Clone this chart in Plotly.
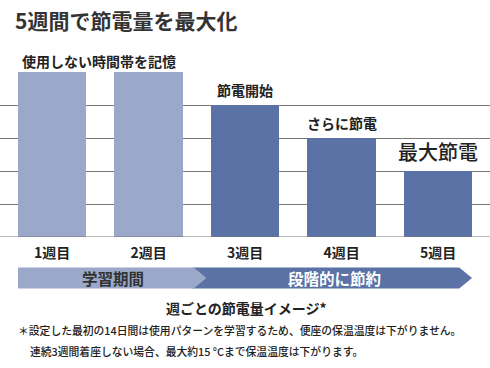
import plotly.graph_objects as go

weeks = ["1週目", "2週目", "3週目", "4週目", "5週目"]
usage = [5, 5, 4, 3, 2]
bar_colors = ["#9aa9c9", "#9aa9c9", "#5a72a5", "#5a72a5", "#5a72a5"]
bar_notes = ["", "", "節電開始", "さらに節電", "最大節電"]
note_sizes = [14, 14, 14, 14, 20]

title_text = "5週間で節電量を最大化"
memo_text = "使用しない時間帯を記憶"
phase_labels = ["学習期間", "段階的に節約"]
caption = "週ごとの節電量イメージ*"
foot1 = "＊設定した最初の14日間は使用パターンを学習するため、便座の保温温度は下がりません。"
foot2 = "連続3週間着座しない場合、最大約15 °Cまで保温温度は下がります。"

FONT = "Noto Sans CJK JP"
TXT = "#222222"
W, H = 490, 368

def py(p):
    return 1 - p / H

fig = go.Figure()
fig.add_trace(go.Bar(
    x=list(range(len(weeks))), y=usage, width=0.705,
    marker=dict(color=bar_colors, line=dict(width=0)),
    hoverinfo="skip",
))

# bar notes
for i, (t, s) in enumerate(zip(bar_notes, note_sizes)):
    if t:
        fig.add_annotation(x=i, y=usage[i], yref="y", xref="x", text=t,
                           showarrow=False, yanchor="bottom", yshift=3,
                           font=dict(family=FONT, size=s, color=TXT, weight=700 if s < 19 else 500))

# band arrows
light = "#9aa9c9"
dark = "#5a72a5"
yt, yb = py(267.5), py(288.5)
ym = (yt + yb) / 2
x0 = -0.3525
xl_end, xl_tip = 1.47, 1.60
xd_end, xd_tip = 4.22, 4.3525
fig.add_shape(type="path", xref="x", yref="paper",
              path=f"M {xl_end-0.01},{yt} L {xd_end},{yt} L {xd_tip},{ym} L {xd_end},{yb} L {xl_end-0.01},{yb} Z",
              fillcolor=dark, line=dict(width=0), layer="above")
fig.add_shape(type="path", xref="x", yref="paper",
              path=f"M {x0},{yt} L {xl_end},{yt} L {xl_tip},{ym} L {xl_end},{yb} L {x0},{yb} Z",
              fillcolor=light, line=dict(width=0), layer="above")
fig.add_annotation(x=0.63, y=ym, xref="x", yref="paper", text=phase_labels[0], showarrow=False,
                   yanchor="middle", xanchor="center",
                   font=dict(family=FONT, size=15.5, color="#333333", weight=700))
fig.add_annotation(x=2.93, y=ym, xref="x", yref="paper", text=phase_labels[1], showarrow=False,
                   yanchor="middle", xanchor="center",
                   font=dict(family=FONT, size=15.5, color="white", weight=700))

# texts
fig.add_annotation(x=13 / W, y=py(20), xref="paper", yref="paper", text=title_text,
                   showarrow=False, xanchor="left", yanchor="middle",
                   font=dict(family=FONT, size=21, color="#333333", weight=700))
fig.add_annotation(x=20 / W, y=py(61), xref="paper", yref="paper", text=memo_text,
                   showarrow=False, xanchor="left", yanchor="middle",
                   font=dict(family=FONT, size=14, color=TXT, weight=700))
fig.add_annotation(x=246 / W, y=py(308), xref="paper", yref="paper", text=caption,
                   showarrow=False, xanchor="center", yanchor="middle",
                   font=dict(family=FONT, size=14, color=TXT, weight=700))
fig.add_annotation(x=16 / W, y=py(330), xref="paper", yref="paper", text=foot1,
                   showarrow=False, xanchor="left", yanchor="middle",
                   font=dict(family=FONT, size=10.8, color=TXT, weight=500))
fig.add_annotation(x=28 / W, y=py(351), xref="paper", yref="paper", text=foot2,
                   showarrow=False, xanchor="left", yanchor="middle",
                   font=dict(family=FONT, size=10.8, color=TXT, weight=500))

fig.update_layout(
    width=W, height=H, margin=dict(l=0, r=0, t=0, b=0),
    paper_bgcolor="white", plot_bgcolor="white", showlegend=False,
    bargap=0,
    xaxis=dict(range=[-52 / 96.5, 438 / 96.5], tickvals=list(range(len(weeks))), ticktext=weeks,
               showgrid=False, zeroline=False, showline=False, ticks="",
               tickfont=dict(family=FONT, size=14, color=TXT, weight=700), ticklabelstandoff=6),
    yaxis=dict(domain=[py(237), py(72)], range=[0, 5], dtick=1, showgrid=True,
               gridcolor="#777777", gridwidth=1, zeroline=False, showline=False,
               showticklabels=False, ticks="", layer="below traces"),
)
fig.add_hline(y=0, line=dict(color="#777777", width=1))
fig.write_html("out.html", config={"displayModeBar": False},
               post_script="document.body.style.margin='0';document.body.style.overflow='hidden';")
